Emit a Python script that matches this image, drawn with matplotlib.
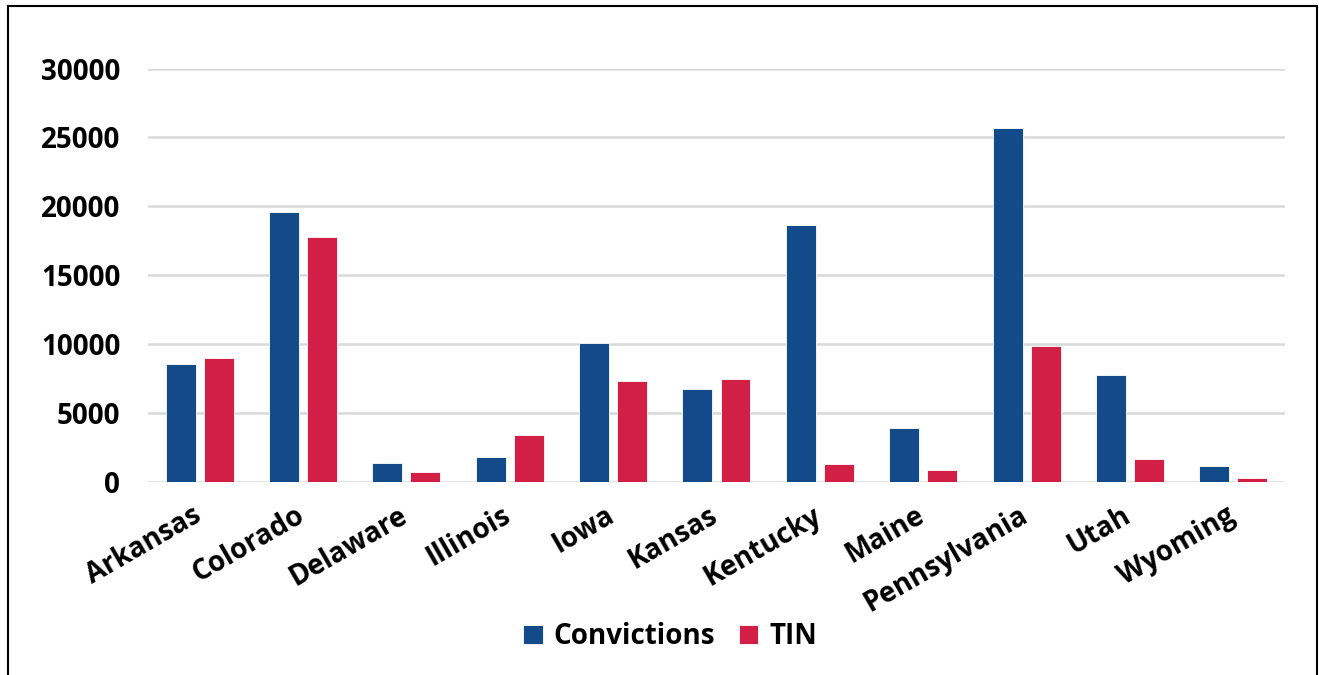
import matplotlib.pyplot as plt
import matplotlib.transforms as mtransforms
import numpy as np
from matplotlib.patches import Rectangle

states = ["Arkansas", "Colorado", "Delaware", "Illinois", "Iowa", "Kansas",
          "Kentucky", "Maine", "Pennsylvania", "Utah", "Wyoming"]
convictions = [8520, 19570, 1360, 1810, 10090, 6750, 18650, 3900, 25670, 7720, 1140]
tin = [8980, 17740, 680, 3370, 7290, 7450, 1280, 830, 9870, 1670, 270]

blue = "#134b8a"
red = "#d11f45"

plt.rcParams['font.family'] = ['Open Sans', 'DejaVu Sans']
plt.rcParams['font.weight'] = 'bold'

fig = plt.figure(figsize=(13.19, 6.75), dpi=100)
ax = fig.add_axes([0.1122, 0.2864, 0.862, 0.612])

x = np.arange(len(states))
w = 0.29
ax.bar(x - 0.184, convictions, w, color=blue, edgecolor='white', linewidth=0.6,
       label="Convictions", zorder=3)
ax.bar(x + 0.184, tin, w, color=red, edgecolor='white', linewidth=0.6,
       label="TIN", zorder=3)

ax.set_xlim(-0.5, len(states) - 0.5)
ax.set_ylim(0, 30000)
ax.set_yticks(np.arange(0, 30001, 5000))
ax.yaxis.grid(True, color='#d9d9d9', linewidth=1.8, zorder=0)
ax.set_axisbelow(True)
for s in ax.spines.values():
    s.set_visible(False)
ax.tick_params(axis='both', length=0, labelsize=20)
ax.tick_params(axis='y', pad=20)
ax.tick_params(axis='x', pad=14)
ax.set_xticks(x)
ax.set_xticklabels(states, rotation=30, ha='right', rotation_mode='anchor',
                   fontweight='bold')
# nudge the rotated labels a little to the left
shift = mtransforms.ScaledTranslation(-8 / 100, 0, fig.dpi_scale_trans)
for lbl in ax.get_xticklabels():
    lbl.set_transform(lbl.get_transform() + shift)
for lbl in ax.get_yticklabels():
    lbl.set_fontweight('bold')

fig.legend(loc='center', bbox_to_anchor=(0.508, 0.057), ncol=2, frameon=False,
           handlelength=0.7, handleheight=0.7, handletextpad=0.4,
           columnspacing=0.85, prop={'weight': 'bold', 'size': 20})

fig.patches.append(Rectangle((8 / 1319, -0.05), (1316.7 - 8) / 1319, 1.05 - 6 / 675,
                             transform=fig.transFigure, fill=False,
                             edgecolor='black', linewidth=1.5))

plt.savefig("out.png", dpi=100)
